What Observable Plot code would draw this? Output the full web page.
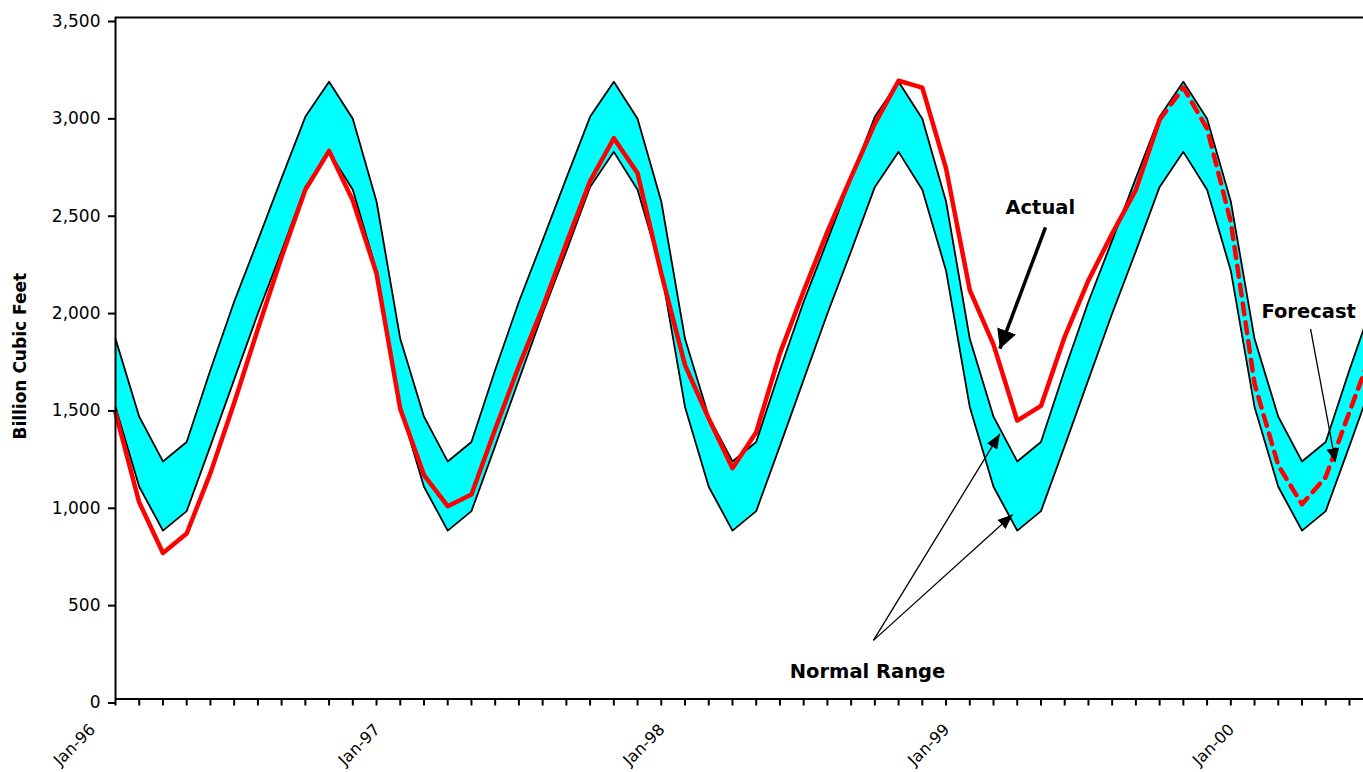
<!DOCTYPE html>
<html>
<head>
<meta charset="utf-8">
<script src="https://cdn.jsdelivr.net/npm/d3@7"></script>
<script src="https://cdn.jsdelivr.net/npm/@observablehq/plot@0.6"></script>
<style>
html, body { margin: 0; padding: 0; background: #fff; overflow: hidden; }
#chart svg { display: block; }
</style>
</head>
<body>
<div id="chart"></div>
<script>
// ---- categories (monthly, Jan-96 .. Jun-00) ----
const monthLabels = [
  "Jan-96","Feb-96","Mar-96","Apr-96","May-96","Jun-96","Jul-96","Aug-96","Sep-96","Oct-96","Nov-96","Dec-96",
  "Jan-97","Feb-97","Mar-97","Apr-97","May-97","Jun-97","Jul-97","Aug-97","Sep-97","Oct-97","Nov-97","Dec-97",
  "Jan-98","Feb-98","Mar-98","Apr-98","May-98","Jun-98","Jul-98","Aug-98","Sep-98","Oct-98","Nov-98","Dec-98",
  "Jan-99","Feb-99","Mar-99","Apr-99","May-99","Jun-99","Jul-99","Aug-99","Sep-99","Oct-99","Nov-99","Dec-99",
  "Jan-00","Feb-00","Mar-00","Apr-00","May-00","Jun-00"
];
const xTickLabels = ["Jan-96","Jan-97","Jan-98","Jan-99","Jan-00"];
const yTicks = [0, 500, 1000, 1500, 2000, 2500, 3000, 3500];

// ---- normal range (upper / lower bound), billion cubic feet ----
const normalHigh = [
  1850,1450,1220,1320,1690,2040,2355,2675,2990,3170,2980,2555,
  1850,1450,1220,1320,1690,2040,2355,2675,2990,3170,2980,2555,
  1850,1450,1220,1320,1690,2040,2355,2675,2990,3170,2980,2555,
  1850,1450,1220,1320,1690,2040,2355,2675,2990,3170,2980,2555,
  1850,1450,1220,1320,1690,2040
];
const normalLow = [
  1500,1090,865,965,1300,1640,1980,2300,2630,2810,2615,2200,
  1500,1090,865,965,1300,1640,1980,2300,2630,2810,2615,2200,
  1500,1090,865,965,1300,1640,1980,2300,2630,2810,2615,2200,
  1500,1090,865,965,1300,1640,1980,2300,2630,2810,2615,2200,
  1500,1090,865,965,1300,1640
];

// ---- actual storage, Jan-96 .. Sep-99 ----
const actual = [
  1470,1010,750,850,1160,1520,1900,2270,2615,2815,2560,2185,
  1490,1150,990,1050,1385,1710,2010,2340,2660,2880,2700,2185,
  1715,1440,1185,1370,1775,2095,2400,2680,2955,3175,3140,2725,
  2100,1820,1430,1505,1860,2150,2390,2615,2975
];
// ---- forecast, Sep-99 .. Jun-00 ----
const forecastStart = 44;
const forecast = [2975,3140,2930,2450,1620,1200,1000,1140,1475,1800];

// ---- annotations (in data units: month index, bcf) ----
const labels = [
  {text: "Actual", i: 38.97, v: 2522},
  {text: "Normal Range", i: 31.69, v: 141},
  {text: "Forecast", i: 50.28, v: 1991}
];
const arrowActual = [{i1: 39.19, v1: 2422, i2: 37.27, v2: 1799}];
const arrowsNormal = [
  {i1: 31.94, v1: 301, i2: 37.27, v2: 1362},
  {i1: 31.94, v1: 301, i2: 37.81, v2: 948}
];
const arrowForecast = [{i1: 50.36, v1: 1901, i2: 51.41, v2: 1216}];

// ---- build tables ----
const band = normalHigh.map((hi, i) => ({i, hi, lo: normalLow[i]}));
const actualData = actual.map((v, i) => ({i, v}));
const forecastData = forecast.map((v, k) => ({i: forecastStart + k, v}));
const monthTicks = d3.range(0, 53);
const janTicks = xTickLabels.map(l => monthLabels.indexOf(l));

function headMarker(len, wid) {
  return (color) => {
    const m = d3.create("svg:marker")
      .attr("viewBox", `${-len} ${-wid / 2} ${len} ${wid}`)
      .attr("markerWidth", len)
      .attr("markerHeight", wid)
      .attr("markerUnits", "userSpaceOnUse")
      .attr("refX", 0).attr("refY", 0)
      .attr("orient", "auto")
      .attr("fill", color)
      .attr("stroke", "none");
    m.append("path").attr("d", `M0,0L${-len},${-wid / 2}L${-len},${wid / 2}Z`);
    return m.node();
  };
}

const step = 23.73;
const chart = Plot.plot({
  width: 1363,
  height: 772,
  marginLeft: 115,
  marginRight: 0,
  marginTop: 17,
  marginBottom: 73.5,
  x: {type: "linear", domain: [0, 53], range: [115, 115 + 53 * step]},
  y: {domain: [0, 3500], range: [698.5, 17]},
  style: {fontFamily: "'DejaVu Sans', sans-serif", fontSize: "16px", color: "#000", background: "#fff", overflow: "hidden"},
  marks: [
    Plot.areaY(band, {x: "i", y1: "lo", y2: "hi", fill: "#00FFFF", curve: "linear"}),
    Plot.lineY(band, {x: "i", y: "hi", stroke: "#000", strokeWidth: 1.8}),
    Plot.lineY(band, {x: "i", y: "lo", stroke: "#000", strokeWidth: 1.8}),
    Plot.lineY(actualData, {x: "i", y: "v", stroke: "#FF0000", strokeWidth: 4.5}),
    Plot.lineY(forecastData, {x: "i", y: "v", stroke: "#FF0000", strokeWidth: 4.5, strokeDasharray: "11,8"}),

    // frame / axes lines
    Plot.ruleY([3500], {stroke: "#000", strokeWidth: 2}),
    Plot.ruleY([0], {stroke: "#000", strokeWidth: 2}),
    Plot.ruleX([0], {stroke: "#000", strokeWidth: 2}),

    // y axis
    Plot.axisY({ticks: yTicks, tickFormat: d3.format(","), tickSize: 7, tickPadding: 8, dy: 4,
      fontSize: 17, label: null, strokeWidth: 2}),
    Plot.text(["Billion Cubic Feet"], {frameAnchor: "left", textAnchor: "middle", rotate: -90, dx: -94.5, dy: -2,
      fontWeight: "bold", fontSize: 17}),

    // x axis
    Plot.axisX({ticks: monthTicks, tickFormat: () => "", tickSize: 7, strokeWidth: 2, label: null}),
    Plot.axisX({ticks: janTicks, tickFormat: i => monthLabels[i], tickSize: 0, tickPadding: 0,
      tickRotate: -45, dx: -23, dy: 28, fontSize: 16, label: null}),

    // annotations
    Plot.link(arrowActual, {x1: "i1", y1: "v1", x2: "i2", y2: "v2", stroke: "#000", strokeWidth: 3.5,
      markerEnd: headMarker(19, 20)}),
    Plot.link(arrowsNormal, {x1: "i1", y1: "v1", x2: "i2", y2: "v2", stroke: "#000", strokeWidth: 1.3,
      markerEnd: headMarker(15, 12)}),
    Plot.link(arrowForecast, {x1: "i1", y1: "v1", x2: "i2", y2: "v2", stroke: "#000", strokeWidth: 1.3,
      markerEnd: headMarker(14, 13)}),
    Plot.text(labels, {x: "i", y: "v", text: "text", fontWeight: "bold", fontSize: 19.5, fill: "#000"})
  ]
});
document.getElementById("chart").append(chart);
</script>
</body>
</html>
